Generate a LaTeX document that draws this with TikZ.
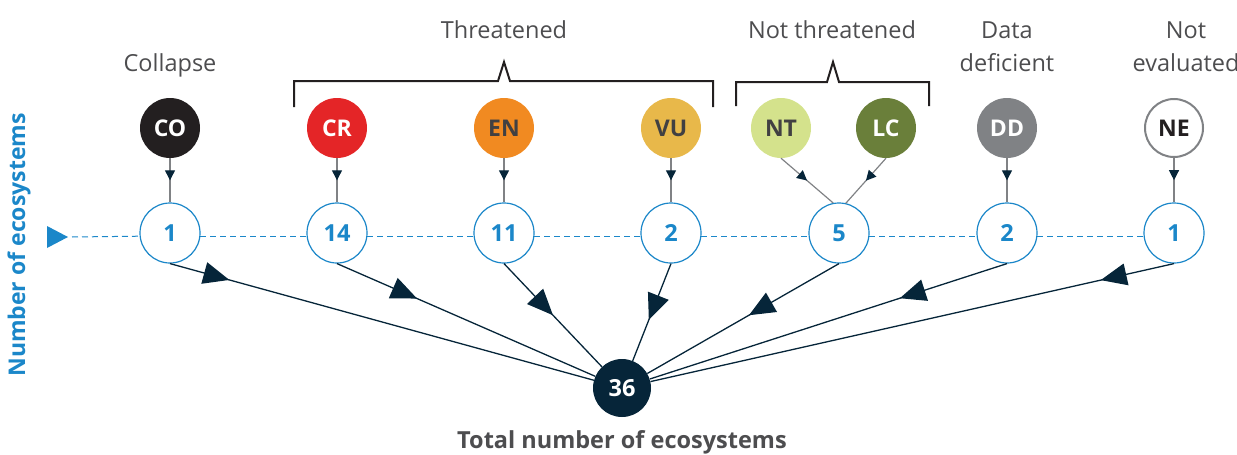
\documentclass[tikz,border=0pt]{standalone}
\usepackage{fontspec}
\setmainfont{Open Sans}
\usetikzlibrary{arrows.meta,decorations.markings}
\definecolor{navy}{HTML}{062539}
\definecolor{ublue}{HTML}{1B87C9}
\definecolor{txtgray}{HTML}{4D4D4F}
\definecolor{cCO}{HTML}{231F20}
\definecolor{cCR}{HTML}{E42527}
\definecolor{cEN}{HTML}{F18A21}
\definecolor{cVU}{HTML}{E8B84A}
\definecolor{cNT}{HTML}{D4E28C}
\definecolor{cLC}{HTML}{6A7F3A}
\definecolor{cDD}{HTML}{808285}
\definecolor{dtext}{HTML}{414042}
\begin{document}
\begin{tikzpicture}[x=1pt,y=-1pt,
  cat/.style={circle, minimum size=60pt, inner sep=0pt, font=\fontsize{23}{23}\selectfont\bfseries},
  cnt/.style={circle, draw=ublue, line width=1.2pt, fill=white, minimum size=60pt, inner sep=0pt, text=ublue, font=\fontsize{23.5}{23.5}\selectfont\bfseries},
  lbl/.style={text=txtgray, font=\fontsize{23.5}{33}\selectfont, align=center, anchor=base},
  feed/.style={draw=cDD, line width=1.2pt, postaction={decorate},
    decoration={markings, mark=at position 0.5 with {\arrow[navy]{Triangle[length=10pt,width=10pt]}}}},
  big/.style={draw=navy, line width=1.3pt, postaction={decorate},
    decoration={markings, mark=at position #1 with {\arrow[navy]{Triangle[length=26pt,width=22pt]}}}},
  brace/.style={draw=cCO, line width=2pt},
  axisline/.style={draw=ublue, line width=1pt, dash pattern=on 6pt off 4pt}
]
\useasboundingbox (0,0) rectangle (1237,455);

% top labels
\node[lbl] (lthr) at (504,38) {Threatened};
\node[lbl] (lnthr) at (832,38) {Not threatened};
\node[lbl] (lcol) at (170,71) {Collapse};
\node[lbl, anchor=north] (ldd) at (1007,18) {Data\\deficient};
\node[lbl, anchor=north] (lne) at (1186,18) {Not\\evaluated};

% brackets
\draw[brace] (294,107) -- (294,81) -- (498,81) -- (504,62) -- (510,81) -- (713,81) -- (713,107);
\draw[brace] (736,106) -- (736,82) -- (827,82) -- (833,62) -- (839,82) -- (929,82) -- (929,106);

% category circles
\node[cat, fill=cCO, text=white] (co) at (170,128) {CO};
\node[cat, fill=cCR, text=white] (cr) at (337,128) {CR};
\node[cat, fill=cEN, text=dtext] (en) at (504,128) {EN};
\node[cat, fill=cVU, text=dtext] (vu) at (671,128) {VU};
\node[cat, fill=cNT, text=dtext] (nt) at (781,128) {NT};
\node[cat, fill=cLC, text=white] (lc) at (886,128) {LC};
\node[cat, fill=cDD, text=white] (dd) at (1007,128) {DD};
\node[cat, fill=white, draw=cDD, line width=2pt, minimum size=58pt, text=cCO] (ne) at (1174,128) {NE};

% count circles
\node[cnt] (m1) at (170,233) {1};
\node[cnt] (m2) at (337,233) {14};
\node[cnt] (m3) at (504,233) {11};
\node[cnt] (m4) at (671,233) {2};
\node[cnt] (m5) at (839,233) {5};
\node[cnt] (m6) at (1007,233) {2};
\node[cnt] (m7) at (1174,233) {1};

% feeds
\draw[feed] (co) -- (m1);
\draw[feed] (cr) -- (m2);
\draw[feed] (en) -- (m3);
\draw[feed] (vu) -- (m4);
\draw[feed] (dd) -- (m6);
\draw[feed] (ne) -- (m7);
\draw[feed] (nt.south) -- (m5.101);
\draw[feed] (lc.south) -- (m5.77);

% axis
\coordinate (ax) at (47,237);
\fill[ublue] (ax) ++(0,-11) -- ++(21,11) -- ++(-21,11) -- cycle;
\coordinate (axe) at (72,237);
\draw[axisline] (axe) -- (m1.-174);
\draw[axisline] (m1.-6) -- (m2.-174);
\draw[axisline] (m2.-6) -- (m3.-174);
\draw[axisline] (m3.-6) -- (m4.-174);
\draw[axisline] (m4.-6) -- (m5.-174);
\draw[axisline] (m5.-6) -- (m6.-174);
\draw[axisline] (m6.-6) -- (m7.-174);
\node[rotate=90, text=ublue, font=\fontsize{23}{23}\selectfont\bfseries] (ylab) at (19,245) {Number of ecosystems};

% total
\node[circle, fill=navy, minimum size=58pt, inner sep=0pt, text=white, font=\fontsize{23.5}{23.5}\selectfont\bfseries] (tot) at (622,388) {36};
\node[text=txtgray, font=\fontsize{23.5}{23.5}\selectfont\bfseries, anchor=base] (ltot) at (622,448) {Total number of ecosystems};

\draw[big=0.14] (m1.south) -- (tot);
\draw[big=0.31] (m2.south) -- (tot);
\draw[big=0.5] (m3.south) -- (tot);
\draw[big=0.58] (m4.south) -- (tot);
\draw[big=0.47] (m5.south) -- (tot);
\draw[big=0.30] (m6.south) -- (tot);
\draw[big=0.14] (m7.south) -- (tot);
\end{tikzpicture}
\end{document}
